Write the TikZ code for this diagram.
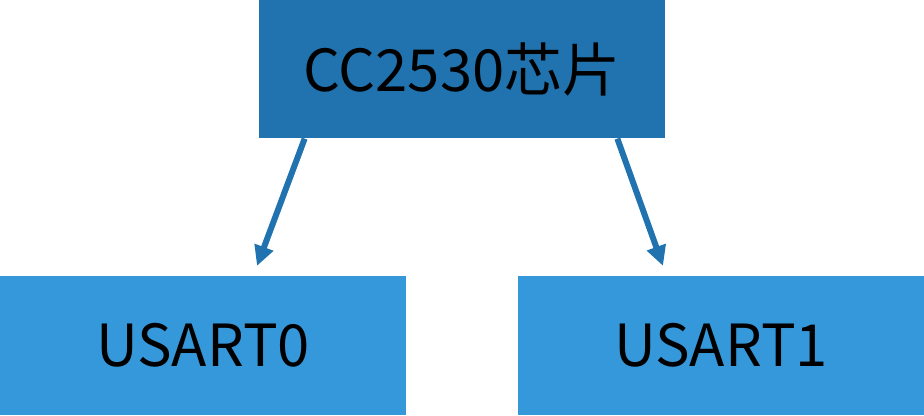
\documentclass[tikz,border=0pt]{standalone}
\usepackage{fontspec}
\setmainfont{Noto Sans CJK SC}
\usepackage{tikz}
\usetikzlibrary{calc}
\usetikzlibrary{positioning}
\usetikzlibrary{arrows.meta}
\definecolor{chipblue}{HTML}{2073AF}
\definecolor{portblue}{HTML}{3598DB}
\tikzstyle{arrow} = [line width=0.12cm, draw=chipblue, -{Triangle[length=0.4cm, width=0.38cm]}]

\begin{document}
\begin{tikzpicture}[
    blknode/.style={rectangle, inner sep=0pt, minimum width=8.12cm, minimum height=2.77cm,
    text=black, font=\fontsize{33}{40}\selectfont}
]
    \useasboundingbox (0,0) rectangle (18.48,-8.3);

    \node[blknode, fill=chipblue] (chip) at (9.24,-1.38) {CC2530芯片};
    \node[blknode, fill=portblue] (usart0) at (4.06,-6.91) {USART0};
    \node[blknode, fill=portblue] (usart1) at (14.42,-6.91) {USART1};

    \draw[arrow] ($(chip.south west)+(0.92,0)$) -- ($(usart0.north)+(1.08,0.2)$);
    \draw[arrow] ($(chip.south east)+(-0.96,0)$) -- ($(usart1.north)+(-1.16,0.2)$);
\end{tikzpicture}
\end{document}
